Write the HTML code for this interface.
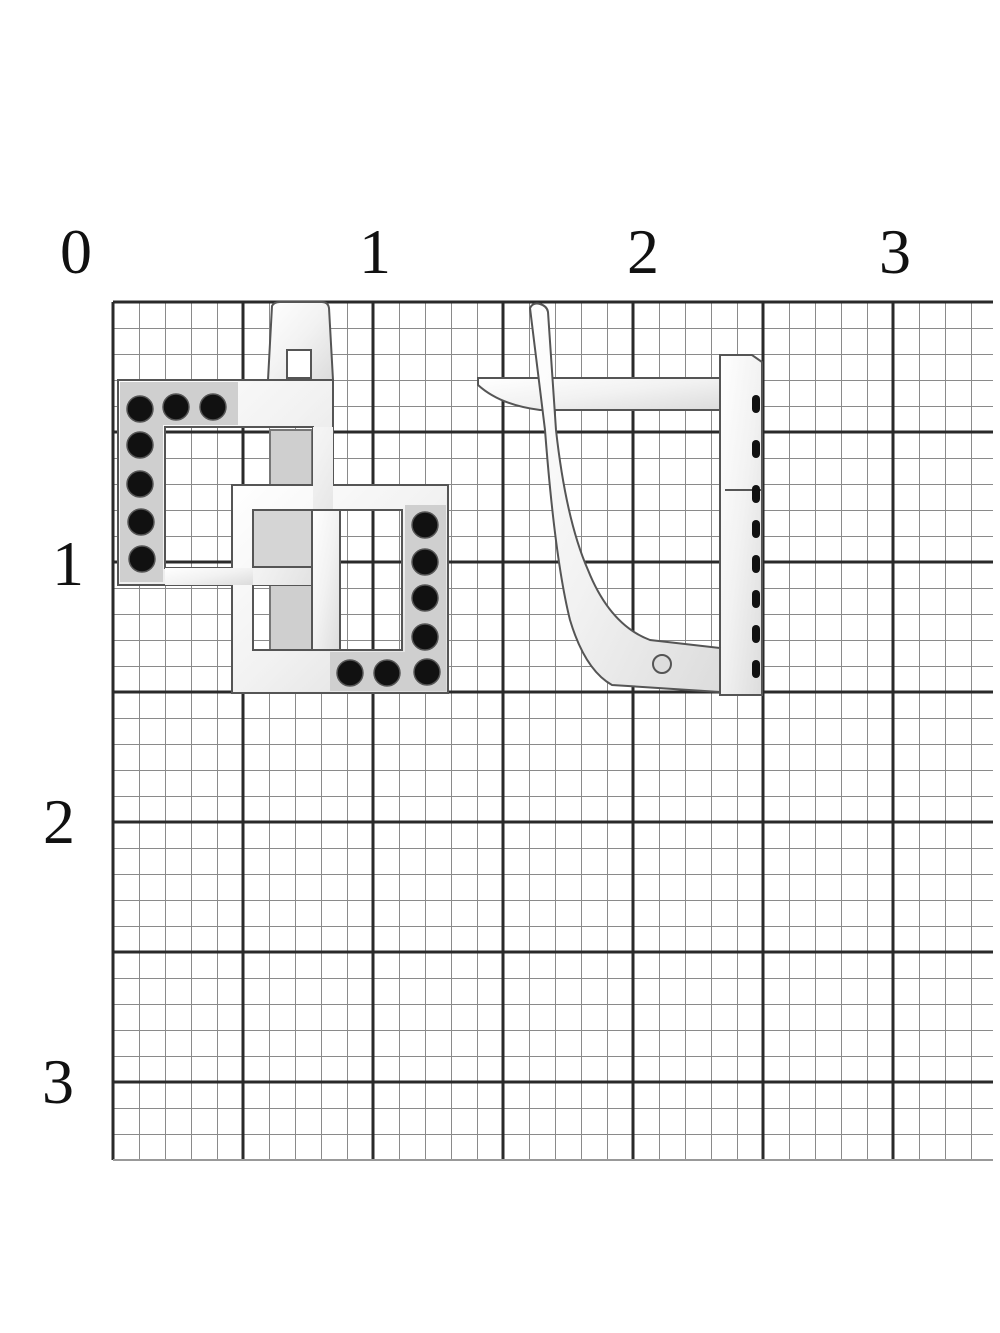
<!DOCTYPE html>
<html><head><meta charset="utf-8"><style>
html,body{margin:0;padding:0;background:#fff}
svg{display:block}
text{font-family:"Liberation Serif",serif;font-size:64px;fill:#111}
</style></head><body>
<svg width="1000" height="1333" viewBox="0 0 1000 1333" xmlns="http://www.w3.org/2000/svg">
<defs>
<pattern id="minor" x="113" y="302" width="26" height="26" patternUnits="userSpaceOnUse">
<path d="M0 0V26M0 0H26" stroke="#8a8a8a" stroke-width="2" fill="none"/>
</pattern>
<linearGradient id="metal" x1="0" y1="0" x2="1" y2="1">
<stop offset="0" stop-color="#ffffff"/><stop offset="0.5" stop-color="#f2f2f2"/><stop offset="1" stop-color="#dcdcdc"/>
</linearGradient>
</defs>
<rect x="113" y="302" width="880" height="858" fill="url(#minor)"/>
<g stroke="#2a2a2a" stroke-width="3">
<line x1="113" y1="302" x2="113" y2="1160"/><line x1="243" y1="302" x2="243" y2="1160"/>
<line x1="373" y1="302" x2="373" y2="1160"/><line x1="503" y1="302" x2="503" y2="1160"/>
<line x1="633" y1="302" x2="633" y2="1160"/><line x1="763" y1="302" x2="763" y2="1160"/>
<line x1="893" y1="302" x2="893" y2="1160"/>
<line x1="113" y1="302" x2="993" y2="302"/><line x1="113" y1="432" x2="993" y2="432"/>
<line x1="113" y1="562" x2="993" y2="562"/><line x1="113" y1="692" x2="993" y2="692"/>
<line x1="113" y1="822" x2="993" y2="822"/><line x1="113" y1="952" x2="993" y2="952"/>
<line x1="113" y1="1082" x2="993" y2="1082"/>
</g>
<line x1="113" y1="1160" x2="993" y2="1160" stroke="#999" stroke-width="2"/>

<text x="76" y="273" text-anchor="middle">0</text>
<text x="375" y="273" text-anchor="middle">1</text>
<text x="643" y="273" text-anchor="middle">2</text>
<text x="895" y="273" text-anchor="middle">3</text>
<text x="68" y="585" text-anchor="middle">1</text>
<text x="59" y="843" text-anchor="middle">2</text>
<text x="58" y="1103" text-anchor="middle">3</text>

<!-- left earring -->
<g stroke="#555" stroke-width="2">
<path d="M268 380 L272 306 Q274 302 280 302 L322 302 Q328 302 329 308 L333 380 Z" fill="url(#metal)"/>
<rect x="287" y="350" width="24" height="28" fill="#fff"/>
<rect x="270" y="430" width="42" height="250" fill="#cfcfcf" stroke="#777"/>
<path fill-rule="evenodd" fill="url(#metal)" d="M118 380H333V585H118Z M165 427V568H313V427Z"/>
<path fill-rule="evenodd" fill="url(#metal)" d="M232 485H448V693H232Z M253 510V650H402V510Z"/>
<path fill="url(#metal)" stroke="none" d="M313 427H333V510H313Z M253 568H313V585H253Z"/>
<rect x="253" y="510" width="59" height="57" fill="#d5d5d5"/>
<path fill="url(#metal)" d="M312 510H340V650H312Z"/>
<path fill="url(#metal)" stroke="none" d="M165 568H253V585H165Z"/>
</g>
<g fill="#cfcfcf" stroke="none">
<rect x="120" y="382" width="118" height="43"/><rect x="120" y="382" width="43" height="200"/>
<rect x="405" y="505" width="41" height="186"/><rect x="330" y="652" width="116" height="39"/>
</g>
<g fill="#111" stroke="#555" stroke-width="1.5">
<circle cx="140" cy="409" r="13"/><circle cx="176" cy="407" r="13"/><circle cx="213" cy="407" r="13"/>
<circle cx="140" cy="445" r="13"/><circle cx="140" cy="484" r="13"/><circle cx="141" cy="522" r="13"/><circle cx="142" cy="559" r="13"/>
<circle cx="425" cy="525" r="13"/><circle cx="425" cy="562" r="13"/><circle cx="425" cy="598" r="13"/><circle cx="425" cy="637" r="13"/><circle cx="427" cy="672" r="13"/>
<circle cx="350" cy="673" r="13"/><circle cx="387" cy="673" r="13"/>
</g>

<!-- right earring -->
<g stroke="#555" stroke-width="2" fill="url(#metal)">
<path d="M720 355 L752 355 L762 362 L762 695 L720 695 Z"/>
<path d="M478 378 L720 378 L720 410 L540 410 Q500 405 478 385 Z"/>
<path d="M530 308 Q533 302 540 304 Q547 306 548 312 L556 430 Q566 520 588 570 Q610 625 650 640 L720 648 L720 692 L612 685 Q585 670 570 620 Q555 560 545 430 Z"/>
<circle cx="662" cy="664" r="9" fill="#ddd"/>
</g>
<line x1="725" y1="490" x2="762" y2="490" stroke="#555" stroke-width="2"/>
<g fill="#111">
<rect x="752" y="395" width="8" height="18" rx="4"/><rect x="752" y="440" width="8" height="18" rx="4"/>
<rect x="752" y="485" width="8" height="18" rx="4"/><rect x="752" y="520" width="8" height="18" rx="4"/>
<rect x="752" y="555" width="8" height="18" rx="4"/><rect x="752" y="590" width="8" height="18" rx="4"/>
<rect x="752" y="625" width="8" height="18" rx="4"/><rect x="752" y="660" width="8" height="18" rx="4"/>
</g>
</svg>
</body></html>
